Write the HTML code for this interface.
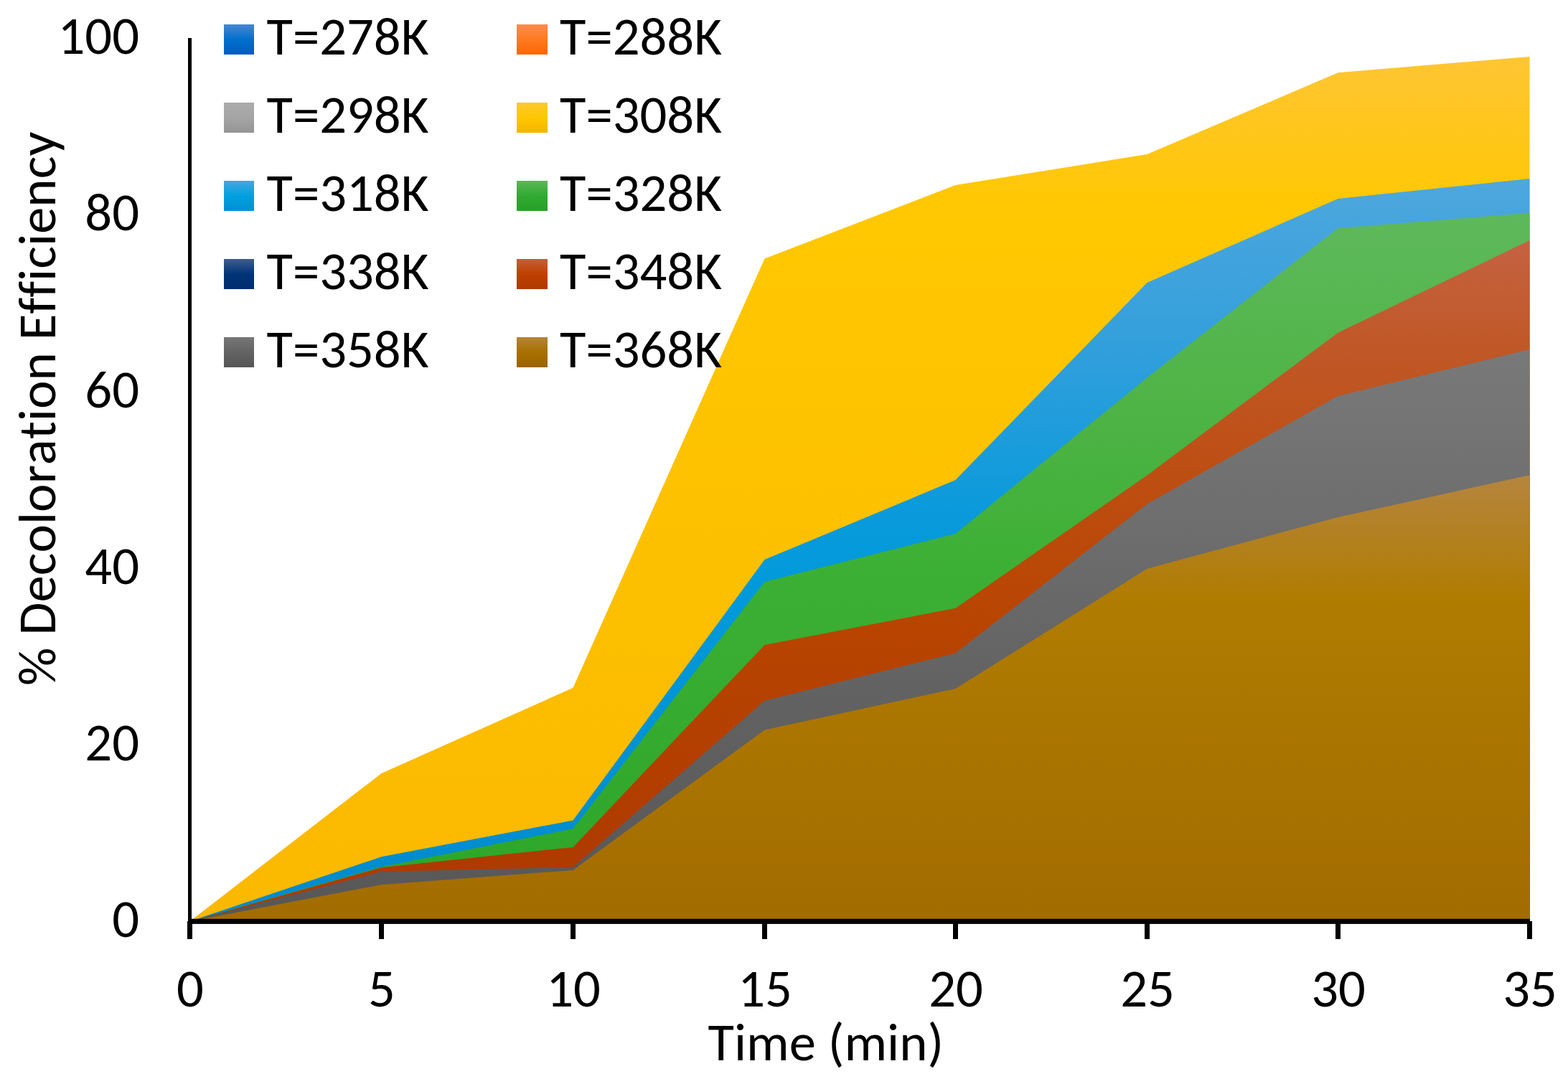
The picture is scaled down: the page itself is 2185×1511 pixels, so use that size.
<!DOCTYPE html>
<html><head><meta charset="utf-8"><style>
html,body{margin:0;padding:0;background:#fff;}
svg{display:block;}
text{font-family:Carlito,"Liberation Sans",sans-serif;font-size:73.2px;fill:#000;font-kerning:none;font-variant-ligatures:none;font-feature-settings:"kern" 0,"liga" 0;}
</style></head><body>
<svg width="2185" height="1511" viewBox="0 0 2185 1511">
<defs><linearGradient id="y308" x1="0" y1="0" x2="0" y2="1"><stop offset="0" stop-color="#FFC535"/><stop offset="0.18" stop-color="#FFC800"/><stop offset="1" stop-color="#FBB800"/></linearGradient><linearGradient id="b318" x1="0" y1="0" x2="0" y2="1"><stop offset="0" stop-color="#4EA7DD"/><stop offset="0.2" stop-color="#36A0DC"/><stop offset="0.45" stop-color="#0A9ADB"/><stop offset="0.55" stop-color="#009ADB"/><stop offset="1" stop-color="#008ACC"/></linearGradient><linearGradient id="g328" x1="0" y1="0" x2="0" y2="1"><stop offset="0" stop-color="#5EB95B"/><stop offset="0.3" stop-color="#4DB344"/><stop offset="0.5" stop-color="#3CB034"/><stop offset="1" stop-color="#2CA528"/></linearGradient><linearGradient id="r348" x1="0" y1="0" x2="0" y2="1"><stop offset="0" stop-color="#C56242"/><stop offset="0.15" stop-color="#C05828"/><stop offset="0.37" stop-color="#BD4D10"/><stop offset="0.57" stop-color="#B84400"/><stop offset="1" stop-color="#AD3800"/></linearGradient><linearGradient id="k358" x1="0" y1="0" x2="0" y2="1"><stop offset="0" stop-color="#797979"/><stop offset="0.3" stop-color="#6E6E6E"/><stop offset="0.6" stop-color="#626262"/><stop offset="1" stop-color="#575757"/></linearGradient><linearGradient id="n368" x1="0" y1="0" x2="0" y2="1"><stop offset="0" stop-color="#B5853F"/><stop offset="0.28" stop-color="#B07C00"/><stop offset="1" stop-color="#A36C00"/></linearGradient><linearGradient id="L0" x1="0" y1="0" x2="0" y2="1"><stop offset="0" stop-color="#4A85D4"/><stop offset="0.5" stop-color="#0070CC"/><stop offset="1" stop-color="#005CBF"/></linearGradient><linearGradient id="L1" x1="0" y1="0" x2="0" y2="1"><stop offset="0" stop-color="#FF8C50"/><stop offset="0.5" stop-color="#FF7A20"/><stop offset="1" stop-color="#FF6600"/></linearGradient><linearGradient id="L2" x1="0" y1="0" x2="0" y2="1"><stop offset="0" stop-color="#ABABAB"/><stop offset="0.5" stop-color="#A5A5A5"/><stop offset="1" stop-color="#959595"/></linearGradient><linearGradient id="L3" x1="0" y1="0" x2="0" y2="1"><stop offset="0" stop-color="#FFC830"/><stop offset="0.5" stop-color="#FFC800"/><stop offset="1" stop-color="#F5B400"/></linearGradient><linearGradient id="L4" x1="0" y1="0" x2="0" y2="1"><stop offset="0" stop-color="#45A8E0"/><stop offset="0.5" stop-color="#00A0E0"/><stop offset="1" stop-color="#0090D0"/></linearGradient><linearGradient id="L5" x1="0" y1="0" x2="0" y2="1"><stop offset="0" stop-color="#5BB85A"/><stop offset="0.5" stop-color="#30AA30"/><stop offset="1" stop-color="#28A028"/></linearGradient><linearGradient id="L6" x1="0" y1="0" x2="0" y2="1"><stop offset="0" stop-color="#3F5E8E"/><stop offset="0.5" stop-color="#003478"/><stop offset="1" stop-color="#002D6E"/></linearGradient><linearGradient id="L7" x1="0" y1="0" x2="0" y2="1"><stop offset="0" stop-color="#C46038"/><stop offset="0.5" stop-color="#C04000"/><stop offset="1" stop-color="#AE3A00"/></linearGradient><linearGradient id="L8" x1="0" y1="0" x2="0" y2="1"><stop offset="0" stop-color="#777777"/><stop offset="0.5" stop-color="#636363"/><stop offset="1" stop-color="#555555"/></linearGradient><linearGradient id="L9" x1="0" y1="0" x2="0" y2="1"><stop offset="0" stop-color="#B48535"/><stop offset="0.5" stop-color="#A87000"/><stop offset="1" stop-color="#9A6400"/></linearGradient></defs>
<rect width="2185" height="1511" fill="#fff"/>
<polygon points="264.5,1284.3 531.5,1078.0 798.5,958.8 1065.5,360.4 1331.5,258.0 1598.5,215.1 1864.5,101.2 2131.5,79.0 2131.5,1284.3 264.5,1284.3" fill="url(#y308)"/><polygon points="264.5,1284.3 531.5,1194.2 798.5,1143.5 1065.5,780.1 1331.5,669.1 1598.5,394.0 1864.5,277.1 2131.5,249.0 2131.5,1284.3 264.5,1284.3" fill="url(#b318)"/><polygon points="264.5,1284.3 531.5,1208.2 798.5,1155.2 1065.5,811.0 1331.5,744.0 1598.5,526.5 1864.5,318.1 2131.5,296.9 2131.5,1284.3 264.5,1284.3" fill="url(#g328)"/><polygon points="264.5,1284.3 531.5,1209.3 798.5,1180.9 1065.5,898.9 1331.5,847.7 1598.5,662.5 1864.5,463.7 2131.5,334.9 2131.5,1284.3 264.5,1284.3" fill="url(#r348)"/><polygon points="264.5,1284.3 531.5,1215.1 798.5,1208.9 1065.5,976.8 1331.5,910.5 1598.5,702.5 1864.5,552.0 2131.5,487.0 2131.5,1284.3 264.5,1284.3" fill="url(#k358)"/><polygon points="264.5,1284.3 531.5,1233.2 798.5,1212.9 1065.5,1017.5 1331.5,959.9 1598.5,792.8 1864.5,721.0 2131.5,662.2 2131.5,1284.3 264.5,1284.3" fill="url(#n368)"/>
<rect x="262" y="53" width="5" height="1235" fill="#000"/>
<rect x="262" y="1280.8" width="1870" height="7.1" fill="#000"/>
<rect x="261.0" y="1284" width="7" height="25" fill="#000"/><rect x="528.0" y="1284" width="7" height="25" fill="#000"/><rect x="795.0" y="1284" width="7" height="25" fill="#000"/><rect x="1062.0" y="1284" width="7" height="25" fill="#000"/><rect x="1328.0" y="1284" width="7" height="25" fill="#000"/><rect x="1595.0" y="1284" width="7" height="25" fill="#000"/><rect x="1861.0" y="1284" width="7" height="25" fill="#000"/><rect x="2128.0" y="1284" width="7" height="25" fill="#000"/>
<rect x="312" y="34.0" width="42" height="42" fill="url(#L0)"/><text x="371.6" y="75.8" textLength="225.91" lengthAdjust="spacingAndGlyphs">T=278K</text><rect x="720" y="34.0" width="43" height="42" fill="url(#L1)"/><text x="780.1" y="75.8" textLength="225.91" lengthAdjust="spacingAndGlyphs">T=288K</text><rect x="312" y="143.0" width="42" height="42" fill="url(#L2)"/><text x="371.6" y="184.8" textLength="225.91" lengthAdjust="spacingAndGlyphs">T=298K</text><rect x="720" y="143.0" width="43" height="42" fill="url(#L3)"/><text x="780.1" y="184.8" textLength="225.91" lengthAdjust="spacingAndGlyphs">T=308K</text><rect x="312" y="252.0" width="42" height="42" fill="url(#L4)"/><text x="371.6" y="293.8" textLength="225.91" lengthAdjust="spacingAndGlyphs">T=318K</text><rect x="720" y="252.0" width="43" height="42" fill="url(#L5)"/><text x="780.1" y="293.8" textLength="225.91" lengthAdjust="spacingAndGlyphs">T=328K</text><rect x="312" y="361.0" width="42" height="42" fill="url(#L6)"/><text x="371.6" y="402.8" textLength="225.91" lengthAdjust="spacingAndGlyphs">T=338K</text><rect x="720" y="361.0" width="43" height="42" fill="url(#L7)"/><text x="780.1" y="402.8" textLength="225.91" lengthAdjust="spacingAndGlyphs">T=348K</text><rect x="312" y="470.0" width="42" height="42" fill="url(#L8)"/><text x="371.6" y="511.8" textLength="225.91" lengthAdjust="spacingAndGlyphs">T=358K</text><rect x="720" y="470.0" width="43" height="42" fill="url(#L9)"/><text x="780.1" y="511.8" textLength="225.91" lengthAdjust="spacingAndGlyphs">T=368K</text>
<text x="194" y="1306.3" text-anchor="end" textLength="37.85" lengthAdjust="spacingAndGlyphs">0</text><text x="194" y="1060.0" text-anchor="end" textLength="75.69" lengthAdjust="spacingAndGlyphs">20</text><text x="194" y="813.8" text-anchor="end" textLength="75.69" lengthAdjust="spacingAndGlyphs">40</text><text x="194" y="567.5" text-anchor="end" textLength="75.69" lengthAdjust="spacingAndGlyphs">60</text><text x="194" y="321.3" text-anchor="end" textLength="75.69" lengthAdjust="spacingAndGlyphs">80</text><text x="194" y="75.0" text-anchor="end" textLength="113.54" lengthAdjust="spacingAndGlyphs">100</text>
<text x="265.0" y="1403" text-anchor="middle" textLength="37.85" lengthAdjust="spacingAndGlyphs">0</text><text x="532.0" y="1403" text-anchor="middle" textLength="37.85" lengthAdjust="spacingAndGlyphs">5</text><text x="799.0" y="1403" text-anchor="middle" textLength="75.69" lengthAdjust="spacingAndGlyphs">10</text><text x="1066.0" y="1403" text-anchor="middle" textLength="75.69" lengthAdjust="spacingAndGlyphs">15</text><text x="1332.0" y="1403" text-anchor="middle" textLength="75.69" lengthAdjust="spacingAndGlyphs">20</text><text x="1599.0" y="1403" text-anchor="middle" textLength="75.69" lengthAdjust="spacingAndGlyphs">25</text><text x="1865.0" y="1403" text-anchor="middle" textLength="75.69" lengthAdjust="spacingAndGlyphs">30</text><text x="2132.0" y="1403" text-anchor="middle" textLength="75.69" lengthAdjust="spacingAndGlyphs">35</text>
<text x="1150.8" y="1478" text-anchor="middle" textLength="328.50" lengthAdjust="spacingAndGlyphs">Time (min)</text>
<text transform="translate(77 956.1) rotate(-90)" textLength="772.4" lengthAdjust="spacingAndGlyphs">% Decoloration Efficiency</text>
</svg>
</body></html>
